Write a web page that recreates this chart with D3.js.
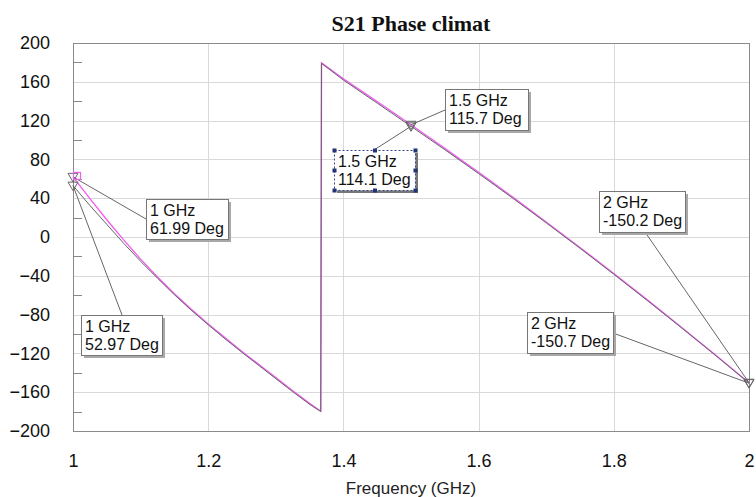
<!DOCTYPE html>
<html>
<head>
<meta charset="utf-8">
<script src="https://cdn.jsdelivr.net/npm/d3@7"></script>
<style>
  body { margin: 0; background: #fff; }
  #chart { width: 756px; height: 497px; }
  text { font-family: "Liberation Sans", Arial, sans-serif; }
</style>
</head>
<body>
<div id="chart"></div>
<script>
// Data
const freqs = [1.0, 1.025, 1.05, 1.075, 1.1, 1.125, 1.15, 1.175, 1.2, 1.225, 1.25, 1.275, 1.3, 1.325, 1.35, 1.3665,
  1.3676, 1.4, 1.45, 1.5, 1.55, 1.6, 1.65, 1.7, 1.75, 1.8, 1.85, 1.9, 1.95, 2.0];
const phaseMagenta = [61.99, 39.5, 17.8, -3.0, -22.8, -41.3, -58.6, -74.6, -89.6, -104, -118, -131.5, -145, -158.5, -171.5, -179.6,
  179.5, 163, 139.5, 115.7, 91.4, 66.6, 41.3, 15.5, -10.8, -37.7, -65.1, -93.0, -121.4, -150.2];
const phaseGrey = [52.97, 32.5, 13, -6.5, -25, -42.5, -59.5, -75.5, -90.5, -105, -119, -132.5, -146, -159.5, -172.5, -179.9,
  179.0, 161.8, 138, 114.1, 90, 65.4, 40.3, 14.6, -11.6, -38.4, -65.7, -93.5, -121.8, -150.7];
const xTicks = [1, 1.2, 1.4, 1.6, 1.8, 2];
const xTickLabels = ["1", "1.2", "1.4", "1.6", "1.8", "2"];
const yTicks = [-200, -160, -120, -80, -40, 0, 40, 80, 120, 160, 200];
const yMinorTicks = [-180, -140, -100, -60, -20, 20, 60, 100, 140, 180];
const markerFreqs = [1, 1.5, 2];

// Dimensions
const dimensions = { width: 756, height: 497, left: 73, right: 749, top: 43, bottom: 431 };

const svg = d3.select("#chart").append("svg")
  .attr("width", dimensions.width)
  .attr("height", dimensions.height);

const xScale = d3.scaleLinear().domain([1, 2]).range([dimensions.left, dimensions.right]);
const yScale = d3.scaleLinear().domain([-200, 200]).range([dimensions.bottom, dimensions.top]);

// Title
svg.append("text")
  .attr("x", (dimensions.left + dimensions.right) / 2)
  .attr("y", 31)
  .attr("text-anchor", "middle")
  .style("font-family", "'Liberation Serif', 'Times New Roman', serif")
  .style("font-weight", "bold")
  .style("font-size", "22px")
  .attr("fill", "#111")
  .text("S21 Phase climat");

// Grid
const grid = svg.append("g").attr("stroke", "#d9d9d9").attr("stroke-width", 1);
grid.selectAll(".vg").data(xTicks.slice(1, -1)).join("line")
  .attr("x1", (d) => Math.round(xScale(d)) + 0.5).attr("x2", (d) => Math.round(xScale(d)) + 0.5)
  .attr("y1", dimensions.top).attr("y2", dimensions.bottom);
grid.selectAll(".hg").data(yTicks.slice(1, -1)).join("line")
  .attr("y1", (d) => Math.round(yScale(d)) + 0.5).attr("y2", (d) => Math.round(yScale(d)) + 0.5)
  .attr("x1", dimensions.left).attr("x2", dimensions.right);

// Minor ticks on the left
svg.append("g").selectAll("line").data(yMinorTicks).join("line")
  .attr("x1", dimensions.left).attr("x2", dimensions.left + 9)
  .attr("y1", (d) => Math.round(yScale(d)) + 0.5).attr("y2", (d) => Math.round(yScale(d)) + 0.5)
  .attr("stroke", "#888");

// Frame
svg.append("rect")
  .attr("x", dimensions.left + 0.5).attr("y", dimensions.top + 0.5)
  .attr("width", dimensions.right - dimensions.left).attr("height", dimensions.bottom - dimensions.top)
  .attr("fill", "none").attr("stroke", "#8a8a8a");

// Axes
const yAxis = d3.axisLeft(yScale).tickValues(yTicks).tickSize(0).tickPadding(23);
svg.append("g").attr("transform", `translate(${dimensions.left},0)`).call(yAxis)
  .call((g) => g.select(".domain").remove())
  .selectAll("text").style("font-size", "18px").attr("fill", "#111")
  .style("font-family", "'Liberation Sans', Arial, sans-serif");

const xAxis = d3.axisBottom(xScale).tickValues(xTicks).tickSize(0).tickPadding(23)
  .tickFormat((d, i) => xTickLabels[i]);
svg.append("g").attr("transform", `translate(0,${dimensions.bottom})`).call(xAxis)
  .call((g) => g.select(".domain").remove())
  .selectAll("text").style("font-size", "18px").attr("fill", "#111")
  .style("font-family", "'Liberation Sans', Arial, sans-serif");

svg.append("text")
  .attr("x", (dimensions.left + dimensions.right) / 2)
  .attr("y", 494)
  .attr("text-anchor", "middle")
  .style("font-size", "17px")
  .attr("fill", "#222")
  .text("Frequency (GHz)");

// Traces
const line = d3.line().x((d) => xScale(d[0])).y((d) => yScale(d[1]));
const plot = svg.append("g");
plot.append("path")
  .datum(freqs.map((f, i) => [f, phaseMagenta[i]]))
  .attr("d", line).attr("fill", "none").attr("stroke", "#f060f0").attr("stroke-width", 1.4);
plot.append("path")
  .datum(freqs.map((f, i) => [f, phaseGrey[i]]))
  .attr("d", line).attr("fill", "none").attr("stroke", "#666").attr("stroke-width", 1);

// Marker annotations (box positions are layout only)
const valueAt = (arr, f) => arr[freqs.indexOf(f)];
const annotations = [
  { f: markerFreqs[0], v: valueAt(phaseMagenta, 1), box: [146, 199, 82, 40], anchor: [146, 219] },
  { f: markerFreqs[0], v: valueAt(phaseGrey, 1), box: [81, 315, 81, 40], anchor: [122, 315] },
  { f: markerFreqs[1], v: valueAt(phaseMagenta, 1.5), box: [445, 89, 83, 41], anchor: [445, 110] },
  { f: markerFreqs[1], v: valueAt(phaseGrey, 1.5), box: [334, 150, 81, 40], anchor: [374, 150], selected: true },
  { f: markerFreqs[2], v: valueAt(phaseMagenta, 2), box: [599, 191, 86, 41], anchor: [645, 232] },
  { f: markerFreqs[2], v: valueAt(phaseGrey, 2), box: [527, 312, 86, 41], anchor: [613, 333] }
];

const ann = svg.append("g");
// leader lines
ann.selectAll(".leader").data(annotations).join("line")
  .attr("x1", (d) => d.anchor[0]).attr("y1", (d) => d.anchor[1])
  .attr("x2", (d) => xScale(d.f)).attr("y2", (d) => yScale(d.v))
  .attr("stroke", "#666").attr("stroke-width", 1);

// markers: inverted triangles
const tri = (cx, cy) => `M${cx - 5},${cy - 3.5}L${cx + 5},${cy - 3.5}L${cx},${cy + 5}Z`;
ann.selectAll(".marker").data(annotations).join("path")
  .attr("d", (d) => tri(xScale(d.f), yScale(d.v)))
  .attr("fill", "none").attr("stroke", "#666").attr("stroke-width", 1);
ann.append("rect")
  .attr("x", xScale(1) + 0.5).attr("y", yScale(phaseMagenta[0]) - 4.5)
  .attr("width", 7).attr("height", 7)
  .attr("fill", "none").attr("stroke", "#f060f0").attr("stroke-width", 1.2);

// boxes
const boxes = ann.selectAll(".box").data(annotations).join("g");
boxes.append("rect")
  .attr("x", (d) => d.box[0] + 3).attr("y", (d) => d.box[1] + 3)
  .attr("width", (d) => d.box[2]).attr("height", (d) => d.box[3])
  .attr("fill", (d) => (d.selected ? "#777" : "#a8a8a8"));
boxes.append("rect")
  .attr("x", (d) => d.box[0] + 0.5).attr("y", (d) => d.box[1] + 0.5)
  .attr("width", (d) => d.box[2]).attr("height", (d) => d.box[3])
  .attr("fill", "#fff")
  .attr("stroke", (d) => (d.selected ? "#334488" : "#777"))
  .attr("stroke-dasharray", (d) => (d.selected ? "2,2" : null));
boxes.append("text")
  .attr("x", (d) => d.box[0] + 4).attr("y", (d) => d.box[1] + 17)
  .style("font-size", "16px").attr("fill", "#111")
  .text((d) => `${d.f} GHz`);
boxes.append("text")
  .attr("x", (d) => d.box[0] + 4).attr("y", (d) => d.box[1] + 35)
  .style("font-size", "16px").attr("fill", "#111")
  .text((d) => `${d.v} Deg`);

// selection handles on the selected box
const sel = annotations.find((d) => d.selected);
const [bx, by, bw, bh] = sel.box;
const handles = [];
[0, 0.5, 1].forEach((u) => [0, 0.5, 1].forEach((w) => {
  if (!(u === 0.5 && w === 0.5)) handles.push([bx + u * bw, by + w * bh]);
}));
ann.selectAll(".handle").data(handles).join("rect")
  .attr("x", (d) => d[0] - 1.5).attr("y", (d) => d[1] - 1.5)
  .attr("width", 4).attr("height", 4).attr("fill", "#223377");
</script>
</body>
</html>
